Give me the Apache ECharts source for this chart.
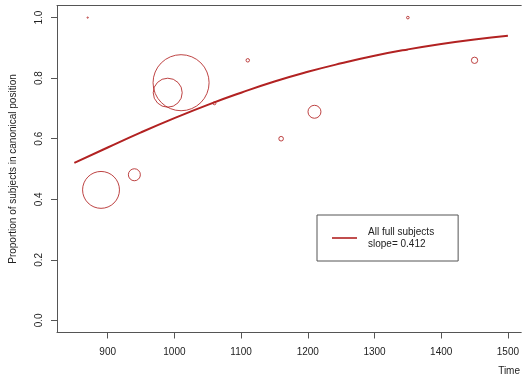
<!DOCTYPE html>
<html>
<head>
<meta charset="utf-8">
<script src="https://cdn.jsdelivr.net/npm/echarts@6/dist/echarts.min.js"></script>
<style>
html,body{margin:0;padding:0;background:#fff;}
#chart{width:522px;height:376px;}
</style>
</head>
<body>
<div id="chart"></div>
<script>
// Observed proportions (circle area ~ weight)
const pointTimes = [870, 890, 940, 990, 1010, 1060, 1110, 1160, 1210, 1350, 1450];
const pointProps = [1.0, 0.431, 0.481, 0.752, 0.785, 0.717, 0.859, 0.600, 0.689, 1.0, 0.859];
const pointWeights = [0.4, 340, 36, 210, 785, 2.2, 3, 5.3, 42, 1.7, 10];

// Fitted curve
const fitTimes = [850, 900, 950, 1000, 1050, 1100, 1150, 1200, 1250, 1300, 1350, 1400, 1450, 1500];
const fitProps = [0.520, 0.571, 0.621, 0.668, 0.712, 0.752, 0.789, 0.821, 0.849, 0.874, 0.895, 0.913, 0.928, 0.940];

const xTicks = [900, 1000, 1100, 1200, 1300, 1400, 1500];
const yTicks = [0, 0.2, 0.4, 0.6, 0.8, 1.0];

const seriesName = 'All full subjects';
const legendExtra = 'slope= 0.412';
const xTitle = 'Time';
const yTitle = 'Proportion of subjects in canonical position';

const red = '#b22222';
const axisCol = '#555';
const txtCol = '#222';
const font = 'Liberation Sans, Arial, sans-serif';

const chart = echarts.init(document.getElementById('chart'));
chart.setOption({
  animation: false,
  backgroundColor: '#fff',
  grid: {left: 56, top: 5.5, right: 0, bottom: 43.5, show: false},
  legend: {
    data: [{name: seriesName, icon: 'rect'}],
    left: 317, top: 215,
    orient: 'vertical',
    backgroundColor: '#fff',
    borderColor: axisCol, borderWidth: 1, borderRadius: 0,
    padding: [11, 24, 11, 15],
    itemWidth: 25, itemHeight: 1.6,
    formatter: n => n + '\n' + legendExtra,
    textStyle: {color: txtCol, fontSize: 10, fontFamily: font, lineHeight: 12, padding: [0, 0, 0, 6]}
  },
  graphic: [{
    type: 'text', right: 2, top: 366,
    style: {text: xTitle, fill: txtCol, font: '10px ' + font}
  }],
  xAxis: [{
    type: 'value', min: 824, max: 1520,
    axisLine: {show: true, onZero: false, lineStyle: {color: axisCol}},
    splitLine: {show: false},
    axisTick: {show: true, length: 6, customValues: xTicks, lineStyle: {color: axisCol}},
    axisLabel: {customValues: xTicks, margin: 15, color: txtCol, fontSize: 10, fontFamily: font,
      formatter: v => String(v)}
  }, {
    type: 'value', min: 824, max: 1520, position: 'top',
    axisLine: {show: true, onZero: false, lineStyle: {color: axisCol}},
    splitLine: {show: false}, axisTick: {show: false}, axisLabel: {show: false}
  }],
  yAxis: {
    type: 'value', min: -0.04, max: 1.04,
    name: yTitle, nameLocation: 'middle', nameGap: 39, nameRotate: 90,
    nameTextStyle: {color: txtCol, fontSize: 10, fontFamily: font},
    axisLine: {show: true, onZero: false, lineStyle: {color: axisCol}},
    splitLine: {show: false},
    axisTick: {show: true, length: 6, customValues: yTicks, lineStyle: {color: axisCol}},
    axisLabel: {customValues: yTicks, rotate: 90, margin: 13, color: txtCol, fontSize: 10, fontFamily: font,
      formatter: v => v.toFixed(1)}
  },
  series: [{
    name: 'points',
    type: 'scatter',
    data: pointTimes.map((t, i) => [t, pointProps[i], pointWeights[i]]),
    symbol: 'circle',
    symbolSize: d => 2 * Math.sqrt(d[2]),
    itemStyle: {color: 'transparent', borderColor: red, borderWidth: 1, opacity: 0.85},
    z: 2
  }, {
    name: seriesName,
    type: 'line',
    data: fitTimes.map((t, i) => [t, fitProps[i]]),
    smooth: true,
    symbol: 'none',
    lineStyle: {color: red, width: 2},
    itemStyle: {color: red},
    z: 3
  }]
});
</script>
</body>
</html>
